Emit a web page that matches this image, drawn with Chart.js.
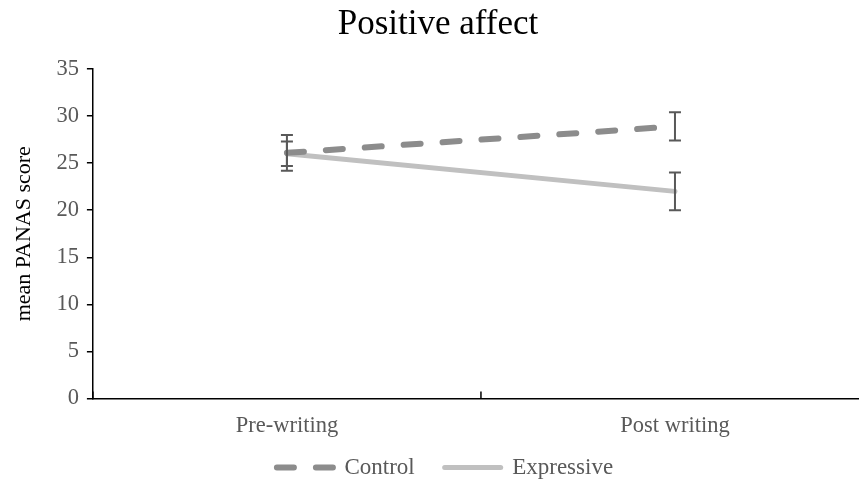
<!DOCTYPE html>
<html>
<head>
<meta charset="utf-8">
<script src="https://cdn.jsdelivr.net/npm/chart.js@4/dist/chart.umd.min.js"></script>
<style>
  html, body { margin: 0; padding: 0; background: #fff; overflow: hidden; }
  #wrap { width: 880px; height: 483px; }
</style>
</head>
<body>
<div id="wrap"><canvas id="myChart"></canvas></div>
<script>
const categories = ['Pre-writing', 'Post writing'];
const controlMean = [26.1, 28.9];
const controlErr = [1.9, 1.5];
const expressiveMean = [26.0, 22.0];
const expressiveErr = [1.3, 2.0];

const serif = "'Liberation Serif', 'Times New Roman', serif";
const LEGEND_HEIGHT = 36.5;   // space the legend takes in the layout
const LEGEND_TOP = 426;       // where the legend box is really drawn
const LEGEND_SHIFT_X = 7;

// legend placement, error bars and inner tick marks on the x axis
const errorBars = {
    id: 'errorBars',
    afterInit(chart) {
        const lg = chart.legend;
        const fit = lg.fit.bind(lg);
        lg.fit = function () {
            fit();
            this.height = LEGEND_HEIGHT;
        };
    },
    afterLayout(chart) {
        const lg = chart.legend;
        lg.top = LEGEND_TOP;
        lg.bottom = LEGEND_TOP + 57;
        lg.height = 57;
        lg.left += LEGEND_SHIFT_X;
        lg.right += LEGEND_SHIFT_X;
    },
    afterDatasetsDraw(chart) {
        const ctx = chart.ctx;
        const x = chart.scales.x;
        const y = chart.scales.y;
        ctx.save();
        ctx.strokeStyle = '#595959';
        ctx.lineWidth = 2;
        chart.data.datasets.forEach((ds) => {
            ds.data.forEach((v, i) => {
                const e = ds.errors[i];
                const px = x.getPixelForValue(i);
                const top = y.getPixelForValue(v + e);
                const bot = y.getPixelForValue(v - e);
                ctx.beginPath();
                ctx.moveTo(px, top); ctx.lineTo(px, bot);
                ctx.moveTo(px - 6, top); ctx.lineTo(px + 6, top);
                ctx.moveTo(px - 6, bot); ctx.lineTo(px + 6, bot);
                ctx.stroke();
            });
        });
        ctx.strokeStyle = '#000';
        ctx.lineWidth = 1.5;
        [-0.5, 0.5, 1.5].forEach((t) => {
            const px = x.getPixelForValue(t);
            ctx.beginPath();
            ctx.moveTo(px, y.bottom);
            ctx.lineTo(px, y.bottom - 7);
            ctx.stroke();
        });
        ctx.restore();
    }
};

const data = {
    labels: categories,
    datasets: [{
        label: 'Control',
        data: controlMean,
        errors: controlErr,
        borderColor: '#8c8c8c',
        backgroundColor: '#8c8c8c',
        borderWidth: 6,
        borderDash: [17, 22],
        borderCapStyle: 'round',
        pointRadius: 0,
        tension: 0
    }, {
        label: 'Expressive',
        data: expressiveMean,
        errors: expressiveErr,
        borderColor: '#c0c0c0',
        backgroundColor: '#c0c0c0',
        borderWidth: 5,
        borderCapStyle: 'round',
        pointRadius: 0,
        tension: 0
    }]
};

const config = {
    type: 'line',
    data: data,
    options: {
        responsive: true,
        maintainAspectRatio: false,
        animation: false,
        layout: {
            padding: { left: 7, right: 11, top: 0, bottom: 0 }
        },
        plugins: {
            title: {
                display: true,
                text: 'Positive affect',
                color: '#000',
                font: { family: serif, size: 35, weight: 'normal' },
                padding: { top: 4, bottom: 23 }
            },
            legend: {
                position: 'bottom',
                labels: {
                    usePointStyle: true,
                    pointStyle: 'line',
                    pointStyleWidth: 56,
                    boxHeight: 5,
                    color: '#595959',
                    padding: 30,
                    font: { family: serif, size: 23 },
                    generateLabels(chart) {
                        const items = Chart.defaults.plugins.legend.labels.generateLabels(chart);
                        items.forEach((it) => {
                            const ds = chart.data.datasets[it.datasetIndex];
                            it.lineDash = ds.borderDash || [];
                            it.lineCap = 'round';
                            it.lineWidth = ds.borderWidth;
                            it.strokeStyle = ds.borderColor;
                        });
                        return items;
                    }
                }
            },
            tooltip: { enabled: false }
        },
        scales: {
            x: {
                offset: true,
                grid: { display: false },
                border: { color: '#000', width: 1.5 },
                ticks: {
                    color: '#595959',
                    padding: 6.5,
                    font: { family: serif, size: 22.5 }
                }
            },
            y: {
                min: 0,
                max: 35,
                grid: {
                    drawOnChartArea: false,
                    color: '#000',
                    lineWidth: 1.5,
                    tickLength: 6
                },
                border: { color: '#000', width: 1.5 },
                ticks: {
                    stepSize: 5,
                    color: '#595959',
                    padding: 8,
                    font: { family: serif, size: 22.5 }
                },
                title: {
                    display: true,
                    text: 'mean PANAS score',
                    color: '#000',
                    font: { family: serif, size: 22 },
                    padding: { top: 4, bottom: 11 }
                }
            }
        }
    },
    plugins: [errorBars]
};

var myChart = new Chart(
    document.getElementById('myChart'),
    config
);
</script>
</body>
</html>
